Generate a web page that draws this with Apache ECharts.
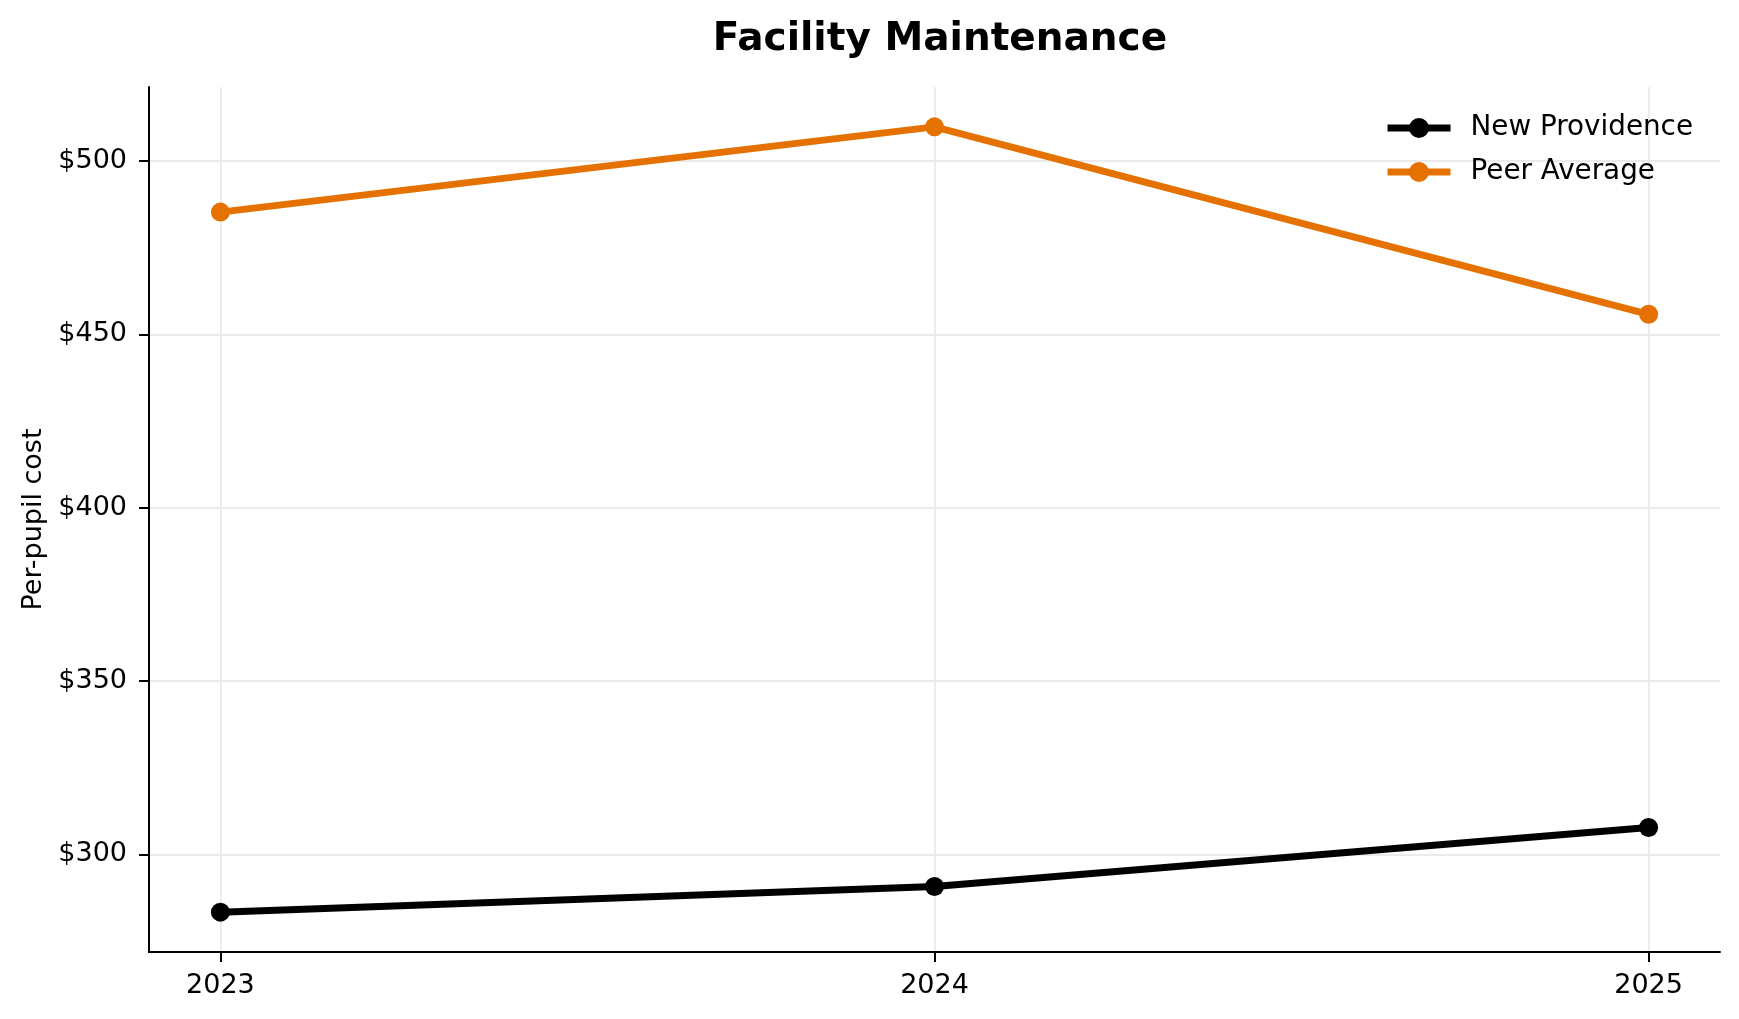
<!DOCTYPE html>
<html>
<head>
<meta charset="utf-8">
<script src="https://cdn.jsdelivr.net/npm/echarts@6/dist/echarts.min.js"></script>
<style>html,body{margin:0;padding:0;background:#fff;}#c{width:1739px;height:1019px;}</style>
</head>
<body>
<div id="c"></div>
<script>
const years = [2023, 2024, 2025];
const newProvidence = [283.3, 290.7, 307.7];
const peerAverage = [485.3, 509.9, 455.8];
const yTicks = [300, 350, 400, 450, 500];
const seriesNames = ['New Providence', 'Peer Average'];
const colors = ['#000000', '#E57200'];

const chart = echarts.init(document.getElementById('c'));
const font = 'DejaVu Sans';
function mk(name, vals, color) {
  return {
    name: name, type: 'line',
    data: years.map((y, i) => [y, vals[i]]),
    symbol: 'circle', symbolSize: 19,
    lineStyle: { width: 7, color: color },
    itemStyle: { color: color },
    emphasis: { disabled: true },
    z: 3
  };
}
chart.setOption({
  backgroundColor: '#fff',
  animation: false,
  textStyle: { fontFamily: font },
  title: {
    text: 'Facility Maintenance', left: 935, textAlign: 'center', top: 15,
    textStyle: { fontFamily: font, fontSize: 39, fontWeight: 'bold', color: '#000' }
  },
  legend: {
    orient: 'vertical', right: 41, top: 109,
    itemWidth: 63, itemHeight: 25, itemGap: 16,
    lineStyle: { width: 7 },
    textStyle: { fontFamily: font, fontSize: 27.8, color: '#000', rich: { a: { fontFamily: font, fontSize: 27.8, lineHeight: 25, padding: [0, 0, 0, 15] } } },
    formatter: n => '{a|' + n + '}',
    data: seriesNames
  },
  grid: { left: 149, right: 19, top: 87, bottom: 67, containLabel: false },
  xAxis: {
    type: 'value', min: 2022.9, max: 2025.1,
    axisLine: { show: true, lineStyle: { color: '#000', width: 2 } },
    axisTick: { show: true, length: 10, lineStyle: { color: '#000', width: 2 }, customValues: years },
    axisLabel: { customValues: years, margin: 20, fontSize: 27, color: '#000', fontFamily: font, formatter: v => String(v) },
    splitLine: { show: true, lineStyle: { color: '#ebebeb', width: 1.8 } }
  },
  yAxis: {
    type: 'value', min: 271.8, max: 521.4,
    name: 'Per-pupil cost', nameLocation: 'middle', nameGap: 102,
    nameTextStyle: { fontSize: 27, color: '#000', fontFamily: font },
    axisLine: { show: true, lineStyle: { color: '#000', width: 2 } },
    axisTick: { show: true, length: 10, lineStyle: { color: '#000', width: 2 }, customValues: yTicks },
    axisLabel: { customValues: yTicks, margin: 22, fontSize: 27, color: '#000', fontFamily: font, formatter: v => '$' + v },
    splitLine: { show: true, lineStyle: { color: '#ebebeb', width: 1.8 } }
  },
  series: [mk(seriesNames[0], newProvidence, colors[0]), mk(seriesNames[1], peerAverage, colors[1])]
});
</script>
</body>
</html>
